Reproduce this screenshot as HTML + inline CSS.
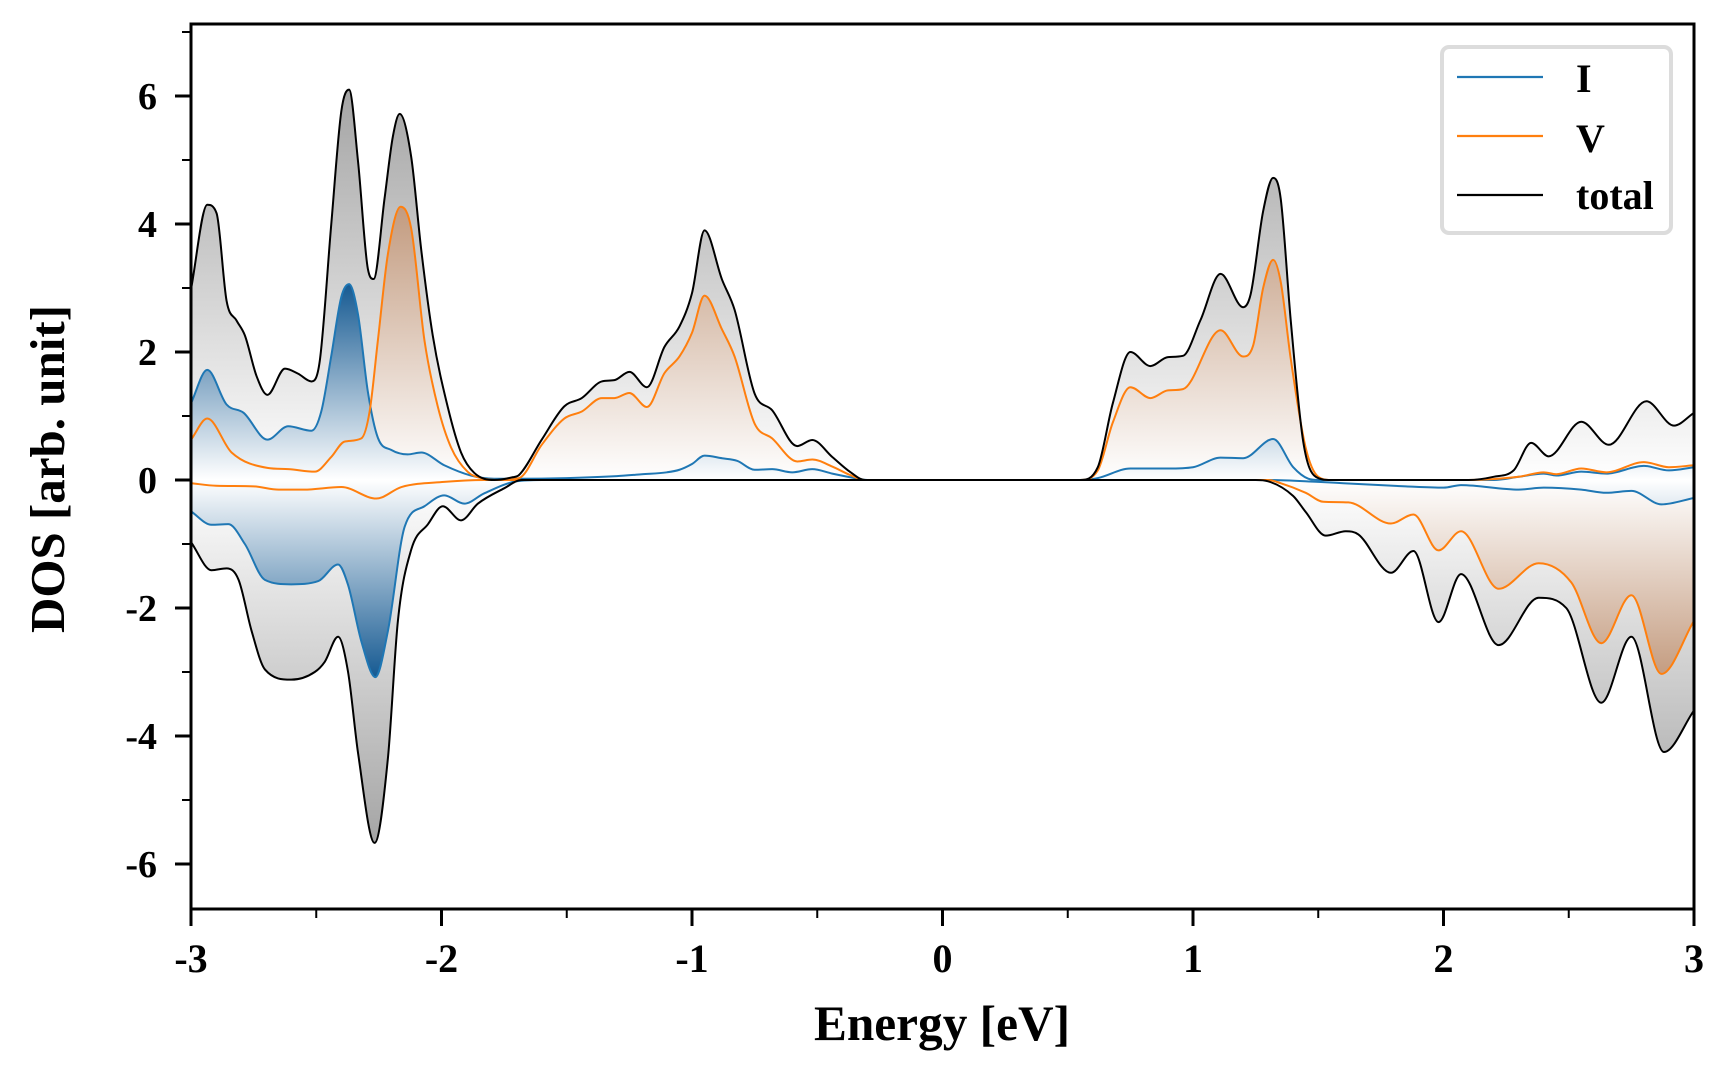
<!DOCTYPE html>
<html><head><meta charset="utf-8">
<style>
html,body{margin:0;padding:0;background:#fff;}
svg{display:block;}
text{font-family:"Liberation Serif","Times New Roman",serif;font-weight:bold;fill:#000;}
</style></head>
<body>
<svg id="chart" width="1728" height="1080" viewBox="0 0 1728 1080" xmlns="http://www.w3.org/2000/svg">
<defs>
<clipPath id="plotclip"><rect x="191" y="24" width="1503" height="885"/></clipPath>
</defs>
<g id="fills" clip-path="url(#plotclip)"></g>
<g id="lines" clip-path="url(#plotclip)"></g>
<g id="axes"></g>
<text x="942" y="1040" font-size="50" text-anchor="middle" textLength="256" lengthAdjust="spacingAndGlyphs">Energy [eV]</text>
<text transform="translate(64,469) rotate(-90)" font-size="49" text-anchor="middle">DOS [arb. unit]</text>
<g>
<rect x="1442" y="47" width="229" height="186" rx="7" fill="#fff" stroke="#dcdcdc" stroke-width="4"/>
<line x1="1457" y1="77" x2="1543" y2="77" stroke="#1f77b4" stroke-width="2.2"/>
<text x="1576" y="92" font-size="40">I</text>
<line x1="1457" y1="136" x2="1543" y2="136" stroke="#ff7f0e" stroke-width="2.2"/>
<text x="1576" y="152" font-size="40">V</text>
<line x1="1457" y1="195" x2="1543" y2="195" stroke="#000" stroke-width="2.2"/>
<text x="1576" y="209" font-size="40">total</text>
</g>
</svg>
<script>
// ---- data ----
const totalUpE = [-3.0,-2.935,-2.898,-2.858,-2.818,-2.785,-2.738,-2.695,-2.625,-2.572,-2.519,-2.486,-2.44,-2.4,-2.369,-2.333,-2.294,-2.271,-2.227,-2.194,-2.167,-2.121,-2.081,-2.035,-1.975,-1.922,-1.869,-1.789,-1.72,-1.69,-1.6,-1.51,-1.44,-1.36,-1.31,-1.25,-1.18,-1.11,-1.05,-1.0,-0.95,-0.88,-0.83,-0.75,-0.68,-0.58,-0.52,-0.44,-0.37,-0.31,0.0,0.55,0.62,0.68,0.75,0.83,0.9,0.96,1.03,1.11,1.2,1.23,1.28,1.32,1.35,1.39,1.44,1.49,1.55,2.1,2.2,2.28,2.35,2.42,2.55,2.66,2.81,2.92,3.0];
const totalUp  = [2.98,4.3,4.17,2.8,2.49,2.26,1.62,1.33,1.74,1.66,1.54,1.86,4.0,5.76,6.1,4.97,3.3,3.14,4.41,5.37,5.72,5.05,3.6,2.26,1.14,0.43,0.11,0.0,0.04,0.08,0.63,1.15,1.28,1.54,1.56,1.69,1.45,2.08,2.4,2.92,3.9,3.13,2.66,1.35,1.09,0.53,0.625,0.36,0.13,0.0,0,0,0.2,1.2,2.0,1.78,1.92,1.94,2.5,3.22,2.7,2.9,4.2,4.72,4.4,2.5,0.6,0.05,0,0,0.05,0.15,0.58,0.37,0.91,0.55,1.23,0.85,1.05];
const totalDnE = [-3.0,-2.918,-2.858,-2.81,-2.758,-2.705,-2.6,-2.506,-2.466,-2.413,-2.373,-2.333,-2.267,-2.214,-2.174,-2.121,-2.054,-1.995,-1.922,-1.855,-1.75,-1.68,1.25,1.3,1.4,1.45,1.53,1.61,1.66,1.79,1.88,1.98,2.07,2.22,2.38,2.49,2.63,2.75,2.88,3.0];
const totalDn  = [-0.97,-1.41,-1.38,-1.56,-2.36,-2.96,-3.12,-3.0,-2.84,-2.45,-3.0,-4.27,-5.67,-4.35,-2.2,-1.09,-0.69,-0.41,-0.63,-0.37,-0.13,0,0,-0.02,-0.25,-0.5,-0.87,-0.8,-0.85,-1.45,-1.11,-2.22,-1.47,-2.58,-1.84,-2.0,-3.48,-2.45,-4.25,-3.6];
const iUpE = [-3.0,-2.935,-2.858,-2.79,-2.695,-2.612,-2.519,-2.48,-2.44,-2.4,-2.369,-2.333,-2.294,-2.254,-2.201,-2.135,-2.081,-1.989,-1.883,-1.79,-1.7,-1.5,-1.3,-1.2,-1.1,-1.05,-1.0,-0.95,-0.88,-0.82,-0.75,-0.68,-0.6,-0.52,-0.44,-0.35,-0.3,0.55,0.62,0.75,0.9,1.0,1.11,1.2,1.32,1.4,1.46,1.5,2.2,2.3,2.4,2.45,2.55,2.65,2.8,2.9,3.0];
const iUp  = [1.2,1.72,1.18,1.05,0.63,0.84,0.77,1.07,1.94,2.86,3.06,2.58,1.38,0.66,0.47,0.4,0.43,0.23,0.07,0.02,0.02,0.03,0.06,0.09,0.12,0.16,0.25,0.38,0.34,0.3,0.16,0.17,0.12,0.17,0.1,0.03,0,0,0.03,0.18,0.18,0.2,0.35,0.34,0.64,0.2,0.02,0,0,0.05,0.1,0.07,0.13,0.1,0.22,0.15,0.2];
const iDnE = [-3.0,-2.918,-2.851,-2.785,-2.705,-2.6,-2.492,-2.413,-2.373,-2.32,-2.264,-2.214,-2.147,-2.068,-1.989,-1.909,-1.83,-1.7,-1.6,1.3,1.5,1.6,1.85,2.0,2.07,2.3,2.4,2.55,2.65,2.75,2.87,3.0];
const iDn  = [-0.49,-0.7,-0.69,-1.0,-1.56,-1.63,-1.58,-1.32,-1.64,-2.52,-3.08,-2.36,-0.73,-0.41,-0.24,-0.37,-0.21,-0.02,0,0,-0.03,-0.05,-0.1,-0.12,-0.08,-0.15,-0.12,-0.15,-0.2,-0.17,-0.38,-0.28];
const vUpE = [-3.0,-2.935,-2.838,-2.695,-2.612,-2.506,-2.44,-2.387,-2.32,-2.287,-2.254,-2.214,-2.163,-2.121,-2.068,-2.015,-1.962,-1.896,-1.83,-1.77,-1.69,-1.6,-1.51,-1.44,-1.36,-1.31,-1.25,-1.18,-1.11,-1.05,-1.0,-0.95,-0.88,-0.83,-0.75,-0.68,-0.58,-0.52,-0.44,-0.37,-0.31,0.55,0.62,0.68,0.75,0.83,0.9,0.96,1.11,1.2,1.24,1.28,1.32,1.35,1.39,1.45,1.5,1.55,2.1,2.3,2.4,2.45,2.55,2.65,2.8,2.9,3.0];
const vUp  = [0.63,0.96,0.43,0.19,0.17,0.13,0.36,0.6,0.65,1.07,2.18,3.53,4.27,3.93,2.18,1.15,0.51,0.13,0.02,0.0,0.03,0.55,0.96,1.07,1.28,1.28,1.36,1.14,1.67,1.93,2.3,2.88,2.35,1.93,0.88,0.65,0.29,0.32,0.21,0.08,0,0,0.15,0.9,1.45,1.28,1.4,1.42,2.34,1.93,2.1,3.0,3.44,3.1,1.9,0.5,0.05,0,0,0.05,0.12,0.09,0.18,0.12,0.28,0.2,0.23];
const vDnE = [-3.0,-2.9,-2.75,-2.65,-2.55,-2.4,-2.26,-2.16,-1.99,-1.83,1.3,1.35,1.45,1.52,1.62,1.79,1.88,1.98,2.07,2.22,2.38,2.51,2.63,2.75,2.87,3.0];
const vDn  = [-0.05,-0.09,-0.1,-0.15,-0.15,-0.11,-0.29,-0.11,-0.03,0,0,-0.05,-0.2,-0.34,-0.35,-0.68,-0.54,-1.1,-0.8,-1.7,-1.3,-1.6,-2.55,-1.8,-3.03,-2.2];
const xTicks = [-3,-2,-1,0,1,2,3];
const xMinor = [-2.5,-1.5,-0.5,0.5,1.5,2.5];
const yTicks = [-6,-4,-2,0,2,4,6];
const yMinor = [-5,-3,-1,1,3,5,7];

// ---- axes ----
const X0=191, X1=1694, Y0=24, Y1=909;
const xMin=-3, xMax=3, yZero=480, yUnit=64;
function xs(e){ return X0 + (e-xMin)/(xMax-xMin)*(X1-X0); }
function ys(v){ return yZero - v*yUnit; }
const NS='http://www.w3.org/2000/svg';
const svg=document.getElementById('chart');
const defs=svg.querySelector('defs');

function grad(id, vTop, cTop, vBot, cBot){
  const g=document.createElementNS(NS,'linearGradient');
  g.setAttribute('id',id); g.setAttribute('gradientUnits','userSpaceOnUse');
  g.setAttribute('x1',0); g.setAttribute('x2',0);
  g.setAttribute('y1',ys(vTop)); g.setAttribute('y2',ys(vBot));
  const s1=document.createElementNS(NS,'stop'); s1.setAttribute('offset','0'); s1.setAttribute('stop-color',cTop);
  const s2=document.createElementNS(NS,'stop'); s2.setAttribute('offset','1'); s2.setAttribute('stop-color',cBot);
  g.appendChild(s1); g.appendChild(s2); defs.appendChild(g);
}
grad('gUp',6.1,'#a4a4a4',0,'#ffffff');
grad('gDn',0,'#ffffff',-5.7,'#a4a4a4');
grad('oUp',4.3,'#c29a7e',0,'#ffffff');
grad('oDn',0,'#ffffff',-3.05,'#c49c80');
grad('bUp',3.06,'#165a92',0,'#ffffff');
grad('bDn',0,'#ffffff',-3.08,'#165a92');

// monotone cubic path
function curve(E,V){
  const n=E.length, px=E.map(xs), py=V.map(ys);
  const d=[], m=new Array(n);
  for(let i=0;i<n-1;i++) d.push((py[i+1]-py[i])/(px[i+1]-px[i]));
  m[0]=d[0]; m[n-1]=d[n-2];
  for(let i=1;i<n-1;i++){ m[i]=(d[i-1]*d[i]<=0)?0:(d[i-1]+d[i])/2; }
  for(let i=0;i<n-1;i++){
    if(d[i]===0){ m[i]=0; m[i+1]=0; continue; }
    const a=m[i]/d[i], b=m[i+1]/d[i], s=a*a+b*b;
    if(s>9){ const t=3/Math.sqrt(s); m[i]=t*a*d[i]; m[i+1]=t*b*d[i]; }
  }
  let p='M'+px[0].toFixed(2)+','+py[0].toFixed(2);
  for(let i=0;i<n-1;i++){
    const h=(px[i+1]-px[i])/3;
    p+=' C'+(px[i]+h).toFixed(2)+','+(py[i]+m[i]*h).toFixed(2)+' '+(px[i+1]-h).toFixed(2)+','+(py[i+1]-m[i+1]*h).toFixed(2)+' '+px[i+1].toFixed(2)+','+py[i+1].toFixed(2);
  }
  return p;
}
const fills=document.getElementById('fills'), lines=document.getElementById('lines');
function addFill(E,V,fill,name){
  const p=document.createElementNS(NS,'path');
  p.setAttribute('d',curve(E,V)+' L'+xs(E[E.length-1]).toFixed(2)+','+ys(0)+' L'+xs(E[0]).toFixed(2)+','+ys(0)+' Z');
  p.setAttribute('fill',fill);
  
  
  fills.appendChild(p);
}
function addLine(E,V,color,name){
  const p=document.createElementNS(NS,'path');
  p.setAttribute('d',curve(E,V));
  p.setAttribute('fill','none'); p.setAttribute('stroke',color); p.setAttribute('stroke-width','2');
  p.setAttribute('stroke-linejoin','round');
  
  
  lines.appendChild(p);
}
addFill(totalUpE,totalUp,'url(#gUp)','total-up-fill');
addFill(totalDnE,totalDn,'url(#gDn)','total-down-fill');
addFill(vUpE,vUp,'url(#oUp)','v-up-fill');
addFill(vDnE,vDn,'url(#oDn)','v-down-fill');
addFill(iUpE,iUp,'url(#bUp)','i-up-fill');
addFill(iDnE,iDn,'url(#bDn)','i-down-fill');
addLine(iUpE,iUp,'#1f77b4','i-up-line');
addLine(iDnE,iDn,'#1f77b4','i-down-line');
addLine(vUpE,vUp,'#ff7f0e','v-up-line');
addLine(vDnE,vDn,'#ff7f0e','v-down-line');
addLine(totalUpE,totalUp,'#000','total-up-line');
addLine(totalDnE,totalDn,'#000','total-down-line');

// axes frame & ticks
const axes=document.getElementById('axes');
const frame=document.createElementNS(NS,'rect');
frame.setAttribute('x',X0); frame.setAttribute('y',Y0); frame.setAttribute('width',X1-X0); frame.setAttribute('height',Y1-Y0);
frame.setAttribute('fill','none'); frame.setAttribute('stroke','#000'); frame.setAttribute('stroke-width','3');


axes.appendChild(frame);
function tick(x1,y1,x2,y2,w,name){
  const l=document.createElementNS(NS,'line');
  l.setAttribute('x1',x1); l.setAttribute('y1',y1); l.setAttribute('x2',x2); l.setAttribute('y2',y2);
  l.setAttribute('stroke','#000'); l.setAttribute('stroke-width',w);
  
  
  axes.appendChild(l);
}
function label(x,y,txt,size,anchor,name){
  const t=document.createElementNS(NS,'text');
  t.setAttribute('x',x); t.setAttribute('y',y); t.setAttribute('font-size',size); t.setAttribute('text-anchor',anchor);
  t.textContent=txt;
  
  
  axes.appendChild(t);
}
xTicks.forEach(v=>{ tick(xs(v),Y1,xs(v),Y1+17,3,'x-tick'); label(xs(v),972,String(v),40,'middle','x-tick-label'); });
xMinor.forEach(v=>{ tick(xs(v),Y1,xs(v),Y1+9,2,'x-minor-tick'); });
yTicks.forEach(v=>{ tick(X0,ys(v),X0-16,ys(v),3,'y-tick'); label(157,ys(v)+13,String(v),38,'end','y-tick-label'); });
yMinor.forEach(v=>{ if(ys(v)>Y0) tick(X0,ys(v),X0-9,ys(v),2,'y-minor-tick'); });
</script>
</body></html>
